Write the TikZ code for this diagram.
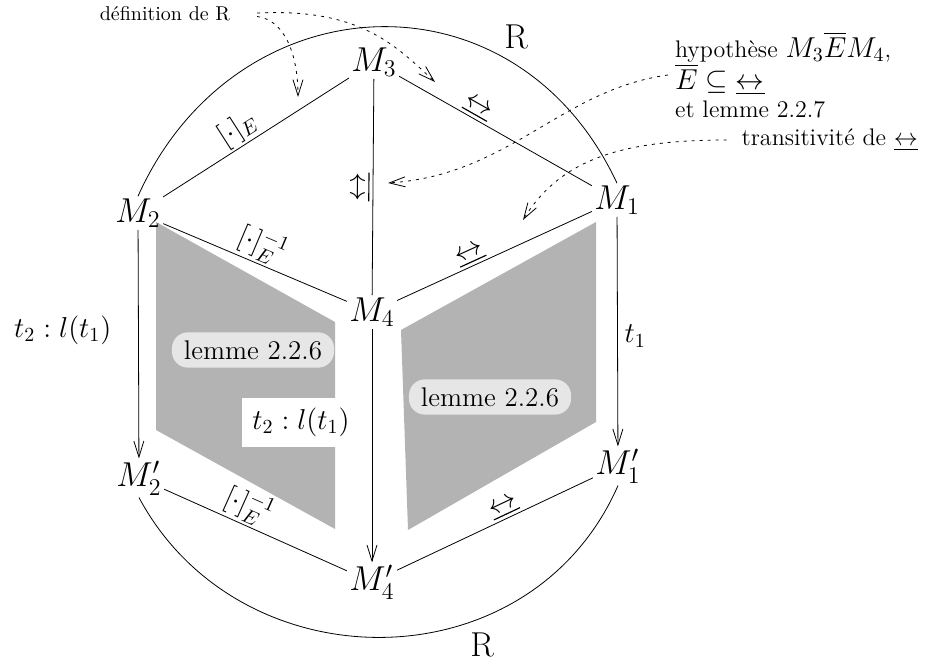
\documentclass[tikz,border=0pt]{standalone}
\usepackage{fontspec}
\usepackage{amsmath}
\usepackage{amssymb}
\usepackage{tikz}
\usetikzlibrary{arrows.meta, positioning}
\definecolor{facegray}{RGB}{179,179,179}
\definecolor{lemmagray}{RGB}{230,230,230}

\begin{document}
\begin{tikzpicture}[
    x=0.5pt, y=-0.5pt,
    >={Straight Barb[length=8pt,width=5pt]},
    every node/.style={font=\large},
    vertex/.style={inner sep=1pt, font=\LARGE},
    rel/.style={sloped, above, inner sep=1pt, font=\Large},
    hint/.style={->, dash pattern=on 1.5pt off 2.5pt},
    lemma/.style={fill=lemmagray, rounded corners=8pt, inner xsep=6pt, inner ysep=4pt,
        font=\fontsize{13.5}{16}\selectfont}
]
\useasboundingbox (0,0) rectangle (927,672);

% shaded faces
\fill[facegray] (156,222) -- (335,322) -- (335,529) -- (156,430) -- cycle;
\fill[facegray] (596,222) -- (401,330) -- (408,530) -- (596,422) -- cycle;

\node[vertex] (m3) at (374,62) {$M_3$};
\node[vertex] (m2) at (138,213) {$M_2$};
\node[vertex] (m1) at (617,200) {$M_1$};
\node[vertex] (m4) at (372,312) {$M_4$};
\node[vertex] (m2p) at (139,478) {$M_2'$};
\node[vertex] (m1p) at (618,466) {$M_1'$};
\node[vertex] (m4p) at (372,582) {$M_4'$};

\node[lemma] (lemleft) at (253,350) {lemme 2.2.6};
\node[lemma] (lemright) at (490,397) {lemme 2.2.6};

\draw (m2) -- node[rel, pos=0.45] {$[\cdot]_E$} (m3);
\draw (m3) -- node[rel, pos=0.38] {$\underline{\leftrightarrow}$} (m1);
\draw (m4) -- node[rel, pos=0.5] {$\underline{\leftrightarrow}$} (m3);
\draw (m2) -- node[rel, pos=0.5] {$[\cdot]_E^{-1}$} (m4);
\draw (m4) -- node[rel, pos=0.4] {$\underline{\leftrightarrow}$} (m1);
\draw (m2p) -- node[rel, pos=0.42] {$[\cdot]_E^{-1}$} (m4p);
\draw (m4p) -- node[rel, pos=0.57] {$\underline{\leftrightarrow}$} (m1p);

\draw[->] (m2) -- node[left=10pt, pos=0.44, font=\Large] {$t_2 : l(t_1)$} (m2p);
\draw[->] (m1) -- node[right, pos=0.52, font=\Large] {$t_1$} (m1p);
\draw[->] (m4) -- node[left=6pt, pos=0.4, fill=white, inner sep=5pt, font=\Large] {$t_2 : l(t_1)$} (m4p);

% relation R
\draw (m2.north) .. controls (235,-20) and (515,-35) .. (m1.north);
\draw (m2p.south) .. controls (240,686) and (530,686) .. (m1p.south);
\node[font=\LARGE] (rtop) at (516,37) {R};
\node[font=\LARGE] (rbot) at (482,645) {R};

% justifications
\node[font=\normalsize] (defR) at (165,14) {définition de R};
\node[align=left, anchor=west] (hyp) at (668,75) {hypothèse {\Large$M_3\overline{E}M_4$},\\ {\Large$\overline{E}\subseteq\underline{\leftrightarrow}$}\\ et lemme 2.2.7};
\node[anchor=east] (trans) at (925,140) {transitivité de $\underline{\leftrightarrow}$};
\coordinate (defhitA) at (298,97);
\coordinate (defhitB) at (435,82);
\coordinate (hyphit) at (388,183);
\coordinate (transhit) at (523,220);
\draw[hint, shorten <=10pt] (defR.east) .. controls (285,20) and (298,55) .. (defhitA);
\draw[hint, shorten <=10pt] (defR.east) .. controls (360,8) and (395,45) .. (defhitB);
\draw[hint] (hyp.west) .. controls (560,90) and (510,175) .. (hyphit);
\draw[hint, shorten <=4pt] (trans.west) .. controls (620,140) and (560,160) .. (transhit);

\end{tikzpicture}
\end{document}
